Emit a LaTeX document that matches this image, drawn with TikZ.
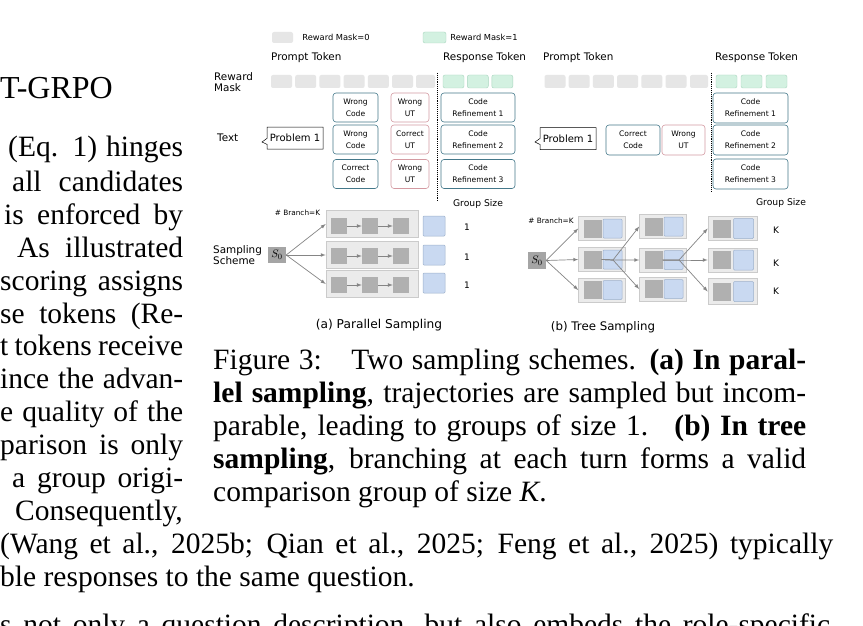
\documentclass[tikz,border=0pt]{standalone}
\usepackage{fontspec}
\setmainfont{Liberation Serif}
\newfontfamily\figfont{DejaVu Sans}
\usepackage{xcolor}
\usepackage{tikz}
\usetikzlibrary{arrows, arrows.meta, positioning, shapes.callouts, calc}

\definecolor{maskgray}{HTML}{E6E6E6}
\definecolor{maskgreen}{HTML}{D3F1E1}
\definecolor{greenline}{HTML}{A9D6BF}
\definecolor{codeline}{HTML}{44788A}
\definecolor{utline}{HTML}{D49AA2}
\definecolor{rowfill}{HTML}{EBEBEB}
\definecolor{rowline}{HTML}{CBCBCB}
\definecolor{stepgray}{HTML}{B0B0B0}
\definecolor{ansblue}{HTML}{C9D9F1}
\definecolor{blueline}{HTML}{9DB1CC}
\definecolor{srcgray}{HTML}{A5A5A5}
\definecolor{arrgray}{HTML}{858585}

\begin{document}
\begin{tikzpicture}[x=1pt, y=-1pt,
    body/.style={font=\fontsize{29.5}{33}\selectfont, inner sep=0pt, anchor=base west},
    lbl/.style={font=\figfont\fontsize{#1}{12}\selectfont, inner sep=0pt, align=left},
    lbl/.default=10.4,
    masktok/.style={fill=maskgray, rounded corners=2pt, minimum width=21pt, minimum height=13pt, inner sep=0pt},
    resptok/.style={fill=maskgreen, draw=greenline, line width=0.4pt, rounded corners=2pt, minimum width=21pt, minimum height=13pt, inner sep=0pt},
    txtbox/.style={draw=#1, line width=0.6pt, fill=white, rounded corners=3pt, minimum height=29pt, align=center, inner sep=0pt, font=\figfont\fontsize{7.6}{12}\selectfont},
    prob/.style={rectangle callout, draw, fill=white, line width=0.5pt, minimum width=56pt, minimum height=22pt, inner sep=0pt, callout pointer width=6pt, font=\figfont\fontsize{10}{12}\selectfont},
    rowbox/.style={fill=rowfill, draw=rowline, line width=0.6pt, minimum width=92pt, minimum height=27pt, inner sep=0pt},
    cellbox/.style={fill=rowfill, draw=rowline, line width=0.6pt, minimum width=47pt, minimum height=24pt, inner sep=0pt},
    stepsq/.style={fill=stepgray, minimum size=#1, inner sep=0pt},
    stepsq/.default=16pt,
    ansq/.style={fill=ansblue, draw=blueline, line width=0.5pt, rounded corners=1pt, minimum size=#1, inner sep=0pt},
    ansq/.default=20pt,
    srcbox/.style={fill=srcgray, minimum width=18pt, minimum height=16pt, inner sep=0pt, font=\fontsize{11}{11}\selectfont},
    arr/.style={-{latex}, draw=arrgray, line width=0.7pt},
    sepline/.style={densely dotted, line width=0.9pt}
]
    \useasboundingbox[fill=white] (0,0) rectangle (863,626);

    % Body text, left column
    \node[body, font=\fontsize{32}{33}\selectfont] (head) at (0,99) {T-GRPO};
    \node[body] (b1)  at (8,157)  {\makebox[175pt][s]{(Eq. 1) hinges}};
    \node[body] (b2)  at (12,191) {\makebox[171pt][s]{all candidates}};
    \node[body] (b3)  at (4,224)  {\makebox[179pt][s]{is enforced by}};
    \node[body] (b4)  at (17,257) {\makebox[166pt][s]{As illustrated}};
    \node[body] (b5)  at (0,290)  {\makebox[183pt][s]{scoring assigns}};
    \node[body] (b6)  at (0,323)  {\makebox[183pt][s]{se tokens (Re-}};
    \node[body] (b7)  at (0,355)  {\makebox[183pt][s]{t tokens receive}};
    \node[body] (b8)  at (0,388)  {\makebox[183pt][s]{ince the advan-}};
    \node[body] (b9)  at (0,421)  {\makebox[183pt][s]{e quality of the}};
    \node[body] (b10) at (0,454)  {\makebox[183pt][s]{parison is only}};
    \node[body] (b11) at (12,487) {\makebox[171pt][s]{a group origi-}};
    \node[body, anchor=base east] (b12) at (183,520) {Consequently,};
    \node[body] (b13) at (0,553)  {\makebox[833pt][s]{(Wang et al., 2025b; Qian et al., 2025; Feng et al., 2025) typically}};
    \node[body] (b14) at (0,586)  {ble responses to the same question.};
    \node[body] (b15) at (0,634)  {\makebox[830pt][s]{s not only a question description, but also embeds the role-specific}};

    % Caption
    \node[body] (c1) at (213,369) {\makebox[593pt][s]{Figure 3:\quad Two sampling schemes. \textbf{(a) In paral-}}};
    \node[body] (c2) at (213,402) {\makebox[593pt][s]{\textbf{lel sampling}, trajectories are sampled but incom-}};
    \node[body] (c3) at (213,435) {\makebox[593pt][s]{parable, leading to groups of size 1. \ \textbf{(b) In tree}}};
    \node[body] (c4) at (213,468) {\makebox[593pt][s]{\textbf{sampling}, branching at each turn forms a valid}};
    \node[body] (c5) at (213,501) {comparison group of size \textit{K}.};

    % Legend
    \node[masktok, minimum height=11pt] (leg0) at (282.5,37.5) {};
    \node[lbl=8.3, anchor=west, right=9pt of leg0] (leg0t) {Reward Mask=0};
    \node[resptok, minimum width=23pt, minimum height=11pt] (leg1) at (434.5,37.5) {};
    \node[lbl=8.3, anchor=west, right=4pt of leg1] (leg1t) {Reward Mask=1};

    % Token headers
    \node[lbl, anchor=west] (pta) at (271,58) {Prompt Token};
    \node[lbl, anchor=west] (rta) at (443,58) {Response Token};
    \node[lbl, anchor=west] (ptb) at (543,58) {Prompt Token};
    \node[lbl, anchor=west] (rtb) at (715,58) {Response Token};
    \node[lbl, anchor=west] (rmask) at (214,82) {Reward\\[-1.5pt]Mask};
    \node[lbl, anchor=west] (txt) at (217,138) {Text};

    % Reward mask, parallel
    \node[masktok] (ma1) at (281.5,81.5) {};
    \node[masktok] (ma2) at (305.7,81.5) {};
    \node[masktok] (ma3) at (329.9,81.5) {};
    \node[masktok] (ma4) at (354.1,81.5) {};
    \node[masktok] (ma5) at (378.3,81.5) {};
    \node[masktok] (ma6) at (402.5,81.5) {};
    \node[masktok, minimum width=19pt] (ma7) at (425.5,81.5) {};
    \node[resptok] (ga1) at (453.5,81.5) {};
    \node[resptok] (ga2) at (477.8,81.5) {};
    \node[resptok] (ga3) at (502.3,81.5) {};

    % Reward mask, tree
    \node[masktok] (mb1) at (555,81.5) {};
    \node[masktok] (mb2) at (579.2,81.5) {};
    \node[masktok] (mb3) at (603.4,81.5) {};
    \node[masktok] (mb4) at (627.6,81.5) {};
    \node[masktok] (mb5) at (651.8,81.5) {};
    \node[masktok] (mb6) at (676,81.5) {};
    \node[masktok, minimum width=18pt] (mb7) at (699,81.5) {};
    \node[resptok] (gb1) at (726.5,81.5) {};
    \node[resptok] (gb2) at (751.5,81.5) {};
    \node[resptok] (gb3) at (776.5,81.5) {};

    % Prompt / response split
    \coordinate (sa1) at (437,73);
    \coordinate (sa2) at (437,202);
    \coordinate (sb1) at (711,73);
    \coordinate (sb2) at (711,192);
    \draw[sepline] (sa1) -- (sa2);
    \draw[sepline] (sb1) -- (sb2);

    % Text rows, parallel
    \coordinate (pa) at (262,142);
    \node[prob, callout absolute pointer={(pa)}] (proba) at (295,138) {Problem 1};
    \node[txtbox=codeline, minimum width=45pt] (wc1) at (355.5,107.5) {Wrong\\Code};
    \node[txtbox=codeline, minimum width=45pt] (wc2) at (355.5,139.5) {Wrong\\Code};
    \node[txtbox=codeline, minimum width=45pt] (cc3) at (355.5,174) {Correct\\Code};
    \node[txtbox=utline, minimum width=38pt] (wu1) at (410,107.5) {Wrong\\UT};
    \node[txtbox=utline, minimum width=38pt] (cu2) at (410,139.5) {Correct\\UT};
    \node[txtbox=utline, minimum width=38pt] (wu3) at (410,174) {Wrong\\UT};
    \node[txtbox=codeline, minimum width=74pt] (ra1) at (478,107.5) {Code\\Refinement 1};
    \node[txtbox=codeline, minimum width=74pt] (ra2) at (478,139.5) {Code\\Refinement 2};
    \node[txtbox=codeline, minimum width=74pt] (ra3) at (478,174) {Code\\Refinement 3};

    % Text rows, tree
    \coordinate (pb) at (535,142);
    \node[prob, callout absolute pointer={(pb)}] (probb) at (568,138.5) {Problem 1};
    \node[txtbox=codeline, minimum width=54pt, minimum height=30pt] (ccb) at (633,140) {Correct\\Code};
    \node[txtbox=utline, minimum width=43pt, minimum height=30pt] (wub) at (683.5,140) {Wrong\\UT};
    \node[txtbox=codeline, minimum width=75pt, minimum height=30pt] (rb1) at (750.5,108) {Code\\Refinement 1};
    \node[txtbox=codeline, minimum width=75pt, minimum height=30pt] (rb2) at (750.5,140) {Code\\Refinement 2};
    \node[txtbox=codeline, minimum width=75pt, minimum height=30pt] (rb3) at (750.5,174) {Code\\Refinement 3};

    \node[lbl=9.2] (gsa) at (478,204) {Group Size};
    \node[lbl=9.2] (gsb) at (781,203) {Group Size};

    % Parallel sampling
    \node[lbl=7.3] (bra) at (297.5,213) {\# Branch=K};
    \node[lbl, anchor=west] (scheme) at (213,255) {Sampling\\[-1pt]Scheme};
    \node[srcbox] (s0a) at (277,255) {$S_0$};
    \node[rowbox] (pr1) at (372,224) {};
    \node[rowbox] (pr2) at (372,255) {};
    \node[rowbox] (pr3) at (372,284) {};
    \node[stepsq] (p11) at (339,226) {};
    \node[stepsq] (p12) at (370,226) {};
    \node[stepsq] (p13) at (401,226) {};
    \node[stepsq] (p21) at (339,256) {};
    \node[stepsq] (p22) at (370,256) {};
    \node[stepsq] (p23) at (401,256) {};
    \node[stepsq] (p31) at (339,285) {};
    \node[stepsq] (p32) at (370,285) {};
    \node[stepsq] (p33) at (401,285) {};
    \node[ansq=20pt, minimum width=22pt] (qa1) at (434,226) {};
    \node[ansq=20pt, minimum width=22pt] (qa2) at (434,255) {};
    \node[ansq=20pt, minimum width=22pt] (qa3) at (434,283) {};
    \node[lbl=9] (ka1) at (467,227) {1};
    \node[lbl=9] (ka2) at (467,257) {1};
    \node[lbl=9] (ka3) at (467,285) {1};

    \draw[arr] (s0a.east) -- (pr1.west);
    \draw[arr] (s0a.east) -- (pr2.west);
    \draw[arr] (s0a.east) -- (pr3.west);
    \draw[arr] (p11) -- (p12);
    \draw[arr] (p12) -- (p13);
    \draw[arr] (p21) -- (p22);
    \draw[arr] (p22) -- (p23);
    \draw[arr] (p31) -- (p32);
    \draw[arr] (p32) -- (p33);

    \node[lbl=12.2] (capa) at (379,325) {(a) Parallel Sampling};

    % Tree sampling
    \node[lbl=7.3] (brb) at (551,221) {\# Branch=K};
    \node[srcbox, minimum height=17pt] (s0b) at (537,260.5) {$S_0$};
    \node[cellbox] (t11) at (602,228.5) {};
    \node[cellbox] (t12) at (602,259.5) {};
    \node[cellbox] (t13) at (602,290) {};
    \node[cellbox] (t21) at (663,226.5) {};
    \node[cellbox] (t22) at (663,260) {};
    \node[cellbox] (t23) at (663,289) {};
    \node[cellbox, minimum width=49pt] (t31) at (732.5,228.5) {};
    \node[cellbox, minimum width=49pt] (t32) at (732.5,260) {};
    \node[cellbox, minimum width=49pt, minimum height=26pt] (t33) at (732.5,291.5) {};
    \node[stepsq=18pt] (d11) at (592.5,228.5) {};
    \node[stepsq=18pt] (d12) at (592.5,259.5) {};
    \node[stepsq=18pt] (d13) at (592.5,290) {};
    \node[stepsq=18pt] (d21) at (653.5,226.5) {};
    \node[stepsq=18pt] (d22) at (653.5,260) {};
    \node[stepsq=18pt] (d23) at (653.5,289) {};
    \node[stepsq=18pt] (d31) at (722,228.5) {};
    \node[stepsq=18pt] (d32) at (722,260) {};
    \node[stepsq=18pt] (d33) at (722,291.5) {};
    \node[ansq=19pt] (q11) at (612.5,228.5) {};
    \node[ansq=19pt] (q12) at (612.5,259.5) {};
    \node[ansq=19pt] (q13) at (612.5,290) {};
    \node[ansq=19pt] (q21) at (673.5,226.5) {};
    \node[ansq=19pt] (q22) at (673.5,260) {};
    \node[ansq=19pt] (q23) at (673.5,289) {};
    \node[ansq=20pt] (q31) at (743.5,228.5) {};
    \node[ansq=20pt] (q32) at (743.5,260) {};
    \node[ansq=20pt] (q33) at (743.5,291.5) {};
    \node[lbl=9] (kb1) at (776,230) {K};
    \node[lbl=9] (kb2) at (776,263) {K};
    \node[lbl=9] (kb3) at (776,291) {K};

    \coordinate (fa) at (613,260);
    \coordinate (fb) at (679,260);
    \draw[arr] (s0b.east) -- (t11.west);
    \draw[arr] (s0b.east) -- (t12.west);
    \draw[arr] (s0b.east) -- (t13.west);
    \draw[arr] (d12.east) -- (fa) -- (t21.west);
    \draw[arr] (d12.east) -- (fa) -- (t22.west);
    \draw[arr] (d12.east) -- (fa) -- (t23.west);
    \draw[arr] (d22.east) -- (fb) -- (t31.west);
    \draw[arr] (d22.east) -- (fb) -- (t32.west);
    \draw[arr] (d22.east) -- (fb) -- (t33.west);

    \node[lbl=11.8] (capb) at (603,327) {(b) Tree Sampling};
\end{tikzpicture}
\end{document}
